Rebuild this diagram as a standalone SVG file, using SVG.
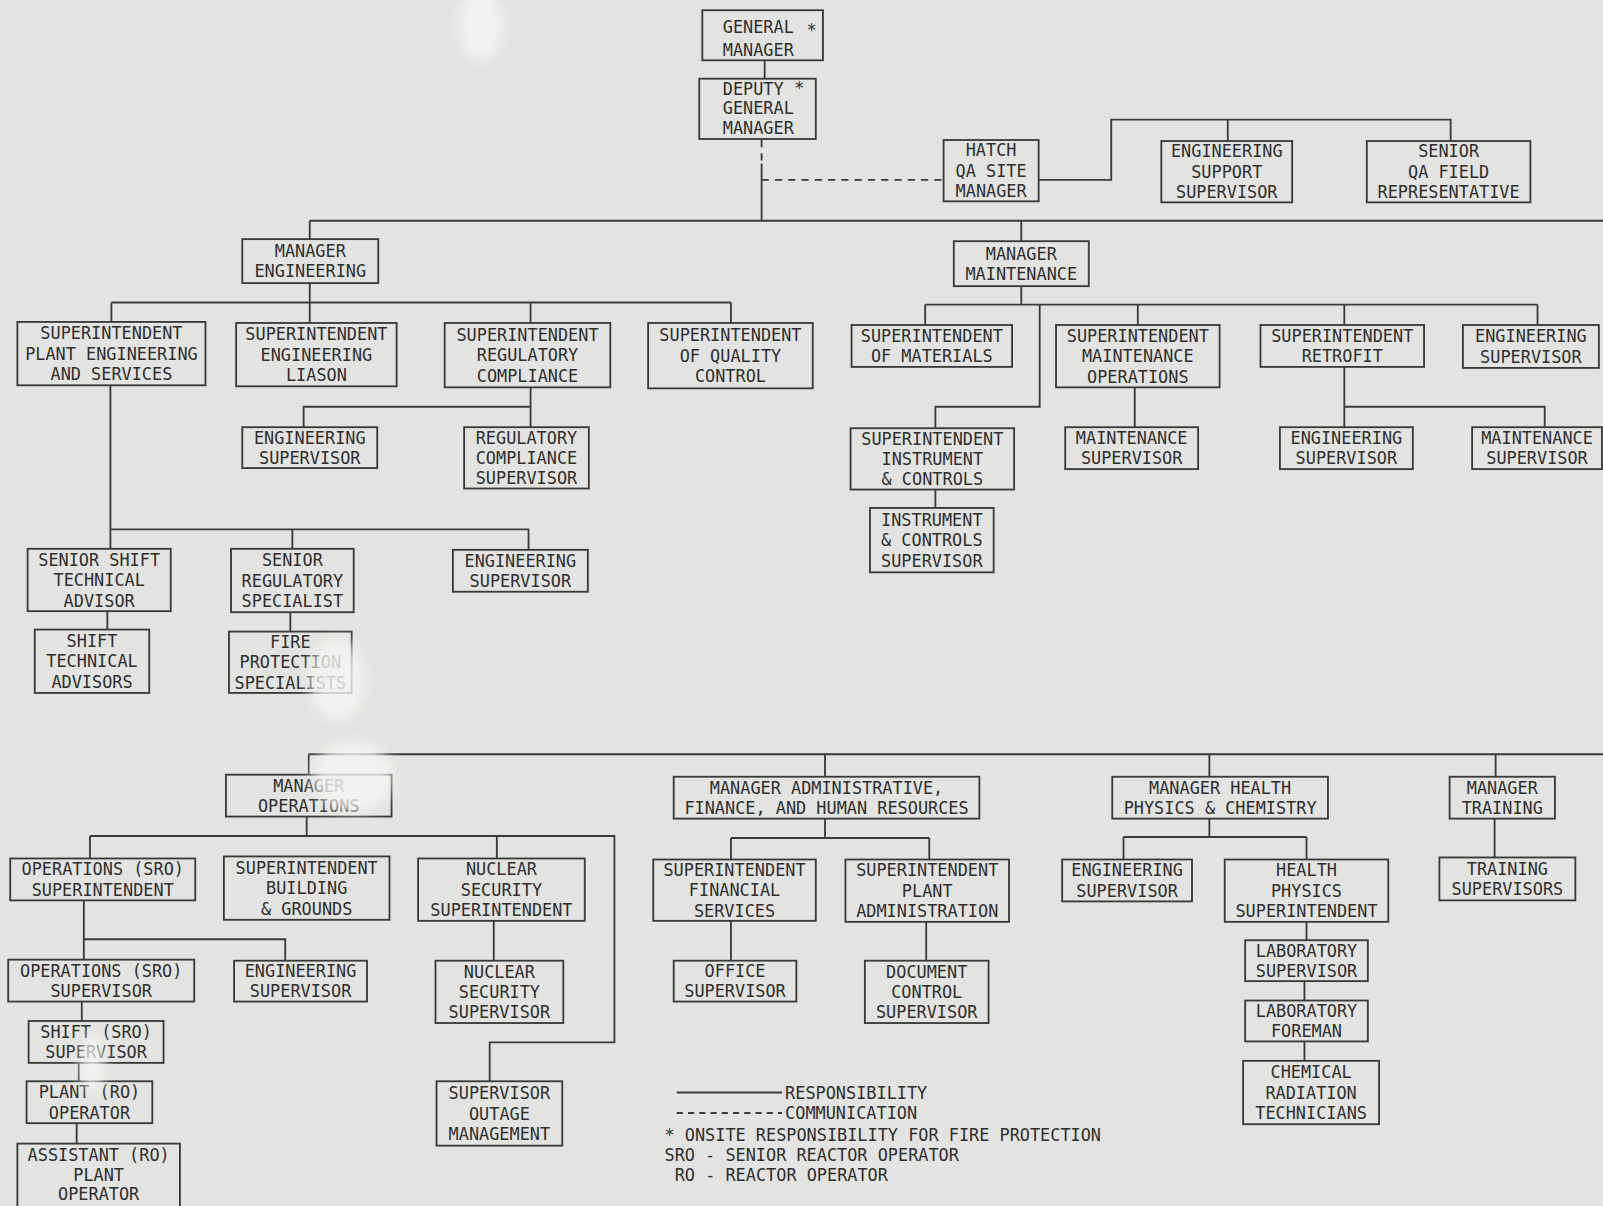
<svg xmlns="http://www.w3.org/2000/svg" width="1603" height="1206" viewBox="0 0 1603 1206">
<style>
.box{fill:none;stroke:#3a3a3a;stroke-width:1.8}
.t{font-family:"DejaVu Sans Mono","Liberation Mono",monospace;font-size:16.5px;fill:#2e2e2e;text-anchor:middle}
.l{text-anchor:start}
.c{fill:none;stroke:#3a3a3a;stroke-width:1.8}
.d{stroke-dasharray:7 6}
.smudge{fill:#f6f6f4;filter:url(#blur)}
</style>
<defs>
<filter id="blur" x="-50%" y="-50%" width="200%" height="200%"><feGaussianBlur stdDeviation="7"/></filter>
</defs>
<rect width="1603" height="1206" fill="#e3e3e1"/>
<g transform="scale(1.0223 1.022)">
<g id="connectors">
<path class="c" d="M748 59V77"/>
<path class="c d" d="M745 137V160"/>
<path class="c d" d="M745 176H923"/>
<path class="c" d="M745 160V216"/>
<path class="c" d="M303 216H1570"/>
<path class="c" d="M303 216V234M999 216V236"/>
<path class="c" d="M1016 176H1087V117H1419V138M1201 117V138"/>
<path class="c" d="M303 277V316M109 296H715M109 296V315M519 296V316M715 296V316"/>
<path class="c" d="M519 379V418M519 398H297V418"/>
<path class="c" d="M108 377V537M108 518H517V538M286 518V537"/>
<path class="c" d="M105 598V616M284 599V618"/>
<path class="c" d="M999 280V298M905 298H1504M905 298V318M1113 298V318M1315 298V318M1504 298V318"/>
<path class="c" d="M1017 298V398H915V419M915 479V497"/>
<path class="c" d="M1110 379V418"/>
<path class="c" d="M1315 359V418M1315 398H1511V418"/>
<path class="c" d="M302 738H1570M302 738V758"/>
<path class="c" d="M300 799V818M88 818H601V1020H479V1058M88 818V840M486 818V840"/>
<path class="c" d="M82 881V939M82 919H279V940M483 901V940"/>
<path class="c" d="M80 980V999M77 1040V1058M75 1099V1119"/>
<path class="c" d="M807 738V760M807 801V820M715 820H909M715 820V841M909 820V841M715 901V940M906 902V940"/>
<path class="c" d="M1183 738V760M1183 801V819M1099 819H1278M1099 819V841M1278 819V841M1278 902V920M1276 960V979M1276 1019V1038"/>
<path class="c" d="M1463 738V760M1462 801V839"/>
</g>
<g id="gm"><rect class="box" x="687" y="10" width="118" height="49"/><text class="t l" x="707" y="32">GENERAL</text><text class="t" x="794" y="35">*</text><text class="t l" x="707" y="55">MANAGER</text></g>
<g id="dgm"><rect class="box" x="684" y="77" width="114" height="59"/><text class="t l" x="707" y="93">DEPUTY</text><text class="t" x="782" y="92">*</text><text class="t l" x="707" y="112">GENERAL</text><text class="t l" x="707" y="131">MANAGER</text></g>
<g id="hatch"><rect class="box" x="923" y="137" width="93" height="60"/><text class="t" x="969.5" y="153">HATCH</text><text class="t" x="969.5" y="173">QA SITE</text><text class="t" x="969.5" y="193">MANAGER</text></g>
<g id="engsupport"><rect class="box" x="1136" y="138" width="128" height="60"/><text class="t" x="1200" y="154">ENGINEERING</text><text class="t" x="1200" y="174">SUPPORT</text><text class="t" x="1200" y="194">SUPERVISOR</text></g>
<g id="seniorqa"><rect class="box" x="1337" y="138" width="160" height="60"/><text class="t" x="1417" y="154">SENIOR</text><text class="t" x="1417" y="174">QA FIELD</text><text class="t" x="1417" y="194">REPRESENTATIVE</text></g>
<g id="mgreng"><rect class="box" x="237" y="234" width="133" height="43"/><text class="t" x="303.5" y="251.5">MANAGER</text><text class="t" x="303.5" y="271.5">ENGINEERING</text></g>
<g id="mgrmaint"><rect class="box" x="933" y="236" width="132" height="44"/><text class="t" x="999" y="254">MANAGER</text><text class="t" x="999" y="274">MAINTENANCE</text></g>
<g id="suptplant"><rect class="box" x="17" y="315" width="184" height="62"/><text class="t" x="109" y="332">SUPERINTENDENT</text><text class="t" x="109" y="352">PLANT ENGINEERING</text><text class="t" x="109" y="372">AND SERVICES</text></g>
<g id="suptliason"><rect class="box" x="231" y="316" width="157" height="62"/><text class="t" x="309.5" y="333">SUPERINTENDENT</text><text class="t" x="309.5" y="353">ENGINEERING</text><text class="t" x="309.5" y="373">LIASON</text></g>
<g id="suptreg"><rect class="box" x="435" y="316" width="162" height="63"/><text class="t" x="516" y="333.5">SUPERINTENDENT</text><text class="t" x="516" y="353.5">REGULATORY</text><text class="t" x="516" y="373.5">COMPLIANCE</text></g>
<g id="suptqc"><rect class="box" x="634" y="316" width="161" height="64"/><text class="t" x="714.5" y="334">SUPERINTENDENT</text><text class="t" x="714.5" y="354">OF QUALITY</text><text class="t" x="714.5" y="374">CONTROL</text></g>
<g id="suptmat"><rect class="box" x="833" y="318" width="157" height="41"/><text class="t" x="911.5" y="334.5">SUPERINTENDENT</text><text class="t" x="911.5" y="354.5">OF MATERIALS</text></g>
<g id="suptmaintops"><rect class="box" x="1033" y="318" width="160" height="61"/><text class="t" x="1113" y="334.5">SUPERINTENDENT</text><text class="t" x="1113" y="354.5">MAINTENANCE</text><text class="t" x="1113" y="374.5">OPERATIONS</text></g>
<g id="suptretro"><rect class="box" x="1233" y="318" width="160" height="41"/><text class="t" x="1313" y="334.5">SUPERINTENDENT</text><text class="t" x="1313" y="354.5">RETROFIT</text></g>
<g id="engsup_m"><rect class="box" x="1431" y="318" width="133" height="42"/><text class="t" x="1497.5" y="335">ENGINEERING</text><text class="t" x="1497.5" y="355">SUPERVISOR</text></g>
<g id="engsup_e1"><rect class="box" x="237" y="418" width="132" height="40"/><text class="t" x="303" y="434">ENGINEERING</text><text class="t" x="303" y="454">SUPERVISOR</text></g>
<g id="regsup"><rect class="box" x="454" y="418" width="122" height="60"/><text class="t" x="515" y="434">REGULATORY</text><text class="t" x="515" y="454">COMPLIANCE</text><text class="t" x="515" y="474">SUPERVISOR</text></g>
<g id="suptic"><rect class="box" x="832" y="419" width="160" height="60"/><text class="t" x="912" y="435">SUPERINTENDENT</text><text class="t" x="912" y="455">INSTRUMENT</text><text class="t" x="912" y="475">&amp; CONTROLS</text></g>
<g id="maintsup1"><rect class="box" x="1042" y="418" width="130" height="41"/><text class="t" x="1107" y="434.5">MAINTENANCE</text><text class="t" x="1107" y="454.5">SUPERVISOR</text></g>
<g id="engsup_r"><rect class="box" x="1252" y="418" width="130" height="41"/><text class="t" x="1317" y="434.5">ENGINEERING</text><text class="t" x="1317" y="454.5">SUPERVISOR</text></g>
<g id="maintsup2"><rect class="box" x="1440" y="418" width="127" height="41"/><text class="t" x="1503.5" y="434.5">MAINTENANCE</text><text class="t" x="1503.5" y="454.5">SUPERVISOR</text></g>
<g id="icsup"><rect class="box" x="851" y="497" width="121" height="63"/><text class="t" x="911.5" y="514.5">INSTRUMENT</text><text class="t" x="911.5" y="534.5">&amp; CONTROLS</text><text class="t" x="911.5" y="554.5">SUPERVISOR</text></g>
<g id="seniorshift"><rect class="box" x="27" y="537" width="140" height="61"/><text class="t" x="97" y="553.5">SENIOR SHIFT</text><text class="t" x="97" y="573.5">TECHNICAL</text><text class="t" x="97" y="593.5">ADVISOR</text></g>
<g id="seniorreg"><rect class="box" x="226" y="537" width="120" height="62"/><text class="t" x="286" y="554">SENIOR</text><text class="t" x="286" y="574">REGULATORY</text><text class="t" x="286" y="594">SPECIALIST</text></g>
<g id="engsup_e2"><rect class="box" x="443" y="538" width="132" height="41"/><text class="t" x="509" y="554.5">ENGINEERING</text><text class="t" x="509" y="574.5">SUPERVISOR</text></g>
<g id="shifttech"><rect class="box" x="34" y="616" width="112" height="62"/><text class="t" x="90" y="633">SHIFT</text><text class="t" x="90" y="653">TECHNICAL</text><text class="t" x="90" y="673">ADVISORS</text></g>
<g id="fireprot"><rect class="box" x="224" y="618" width="120" height="60"/><text class="t" x="284" y="634">FIRE</text><text class="t" x="284" y="654">PROTECTION</text><text class="t" x="284" y="674">SPECIALISTS</text></g>
<g id="mgrops"><rect class="box" x="221" y="758" width="162" height="41"/><text class="t" x="302" y="774.5">MANAGER</text><text class="t" x="302" y="794.5">OPERATIONS</text></g>
<g id="mgradmin"><rect class="box" x="659" y="760" width="299" height="41"/><text class="t" x="808.5" y="776.5">MANAGER ADMINISTRATIVE,</text><text class="t" x="808.5" y="796.5">FINANCE, AND HUMAN RESOURCES</text></g>
<g id="mgrhp"><rect class="box" x="1088" y="760" width="211" height="41"/><text class="t" x="1193.5" y="776.5">MANAGER HEALTH</text><text class="t" x="1193.5" y="796.5">PHYSICS &amp; CHEMISTRY</text></g>
<g id="mgrtrain"><rect class="box" x="1418" y="760" width="103" height="41"/><text class="t" x="1469.5" y="776.5">MANAGER</text><text class="t" x="1469.5" y="796.5">TRAINING</text></g>
<g id="opssupt"><rect class="box" x="10" y="840" width="181" height="41"/><text class="t" x="100.5" y="856.5">OPERATIONS (SRO)</text><text class="t" x="100.5" y="876.5">SUPERINTENDENT</text></g>
<g id="suptbldg"><rect class="box" x="219" y="838" width="162" height="62"/><text class="t" x="300" y="855">SUPERINTENDENT</text><text class="t" x="300" y="875">BUILDING</text><text class="t" x="300" y="895">&amp; GROUNDS</text></g>
<g id="nucsecsupt"><rect class="box" x="409" y="840" width="163" height="61"/><text class="t" x="490.5" y="856.5">NUCLEAR</text><text class="t" x="490.5" y="876.5">SECURITY</text><text class="t" x="490.5" y="896.5">SUPERINTENDENT</text></g>
<g id="suptfin"><rect class="box" x="639" y="841" width="159" height="60"/><text class="t" x="718.5" y="857">SUPERINTENDENT</text><text class="t" x="718.5" y="877">FINANCIAL</text><text class="t" x="718.5" y="897">SERVICES</text></g>
<g id="suptpadmin"><rect class="box" x="827" y="841" width="160" height="61"/><text class="t" x="907" y="857.5">SUPERINTENDENT</text><text class="t" x="907" y="877.5">PLANT</text><text class="t" x="907" y="897.5">ADMINISTRATION</text></g>
<g id="engsup_hp"><rect class="box" x="1039" y="841" width="127" height="41"/><text class="t" x="1102.5" y="857.5">ENGINEERING</text><text class="t" x="1102.5" y="877.5">SUPERVISOR</text></g>
<g id="hpsupt"><rect class="box" x="1198" y="841" width="160" height="61"/><text class="t" x="1278" y="857.5">HEALTH</text><text class="t" x="1278" y="877.5">PHYSICS</text><text class="t" x="1278" y="897.5">SUPERINTENDENT</text></g>
<g id="trainsup"><rect class="box" x="1408" y="839" width="133" height="42"/><text class="t" x="1474.5" y="856">TRAINING</text><text class="t" x="1474.5" y="876">SUPERVISORS</text></g>
<g id="opssup"><rect class="box" x="8" y="939" width="182" height="41"/><text class="t" x="99" y="955.5">OPERATIONS (SRO)</text><text class="t" x="99" y="975.5">SUPERVISOR</text></g>
<g id="engsup_o"><rect class="box" x="229" y="940" width="130" height="40"/><text class="t" x="294" y="956">ENGINEERING</text><text class="t" x="294" y="976">SUPERVISOR</text></g>
<g id="nucsecsup"><rect class="box" x="426" y="940" width="125" height="61"/><text class="t" x="488.5" y="956.5">NUCLEAR</text><text class="t" x="488.5" y="976.5">SECURITY</text><text class="t" x="488.5" y="996.5">SUPERVISOR</text></g>
<g id="officesup"><rect class="box" x="659" y="940" width="120" height="40"/><text class="t" x="719" y="956">OFFICE</text><text class="t" x="719" y="976">SUPERVISOR</text></g>
<g id="docsup"><rect class="box" x="846" y="940" width="121" height="61"/><text class="t" x="906.5" y="956.5">DOCUMENT</text><text class="t" x="906.5" y="976.5">CONTROL</text><text class="t" x="906.5" y="996.5">SUPERVISOR</text></g>
<g id="labsup"><rect class="box" x="1218" y="920" width="120" height="40"/><text class="t" x="1278" y="936">LABORATORY</text><text class="t" x="1278" y="956">SUPERVISOR</text></g>
<g id="shiftsup"><rect class="box" x="28" y="999" width="132" height="41"/><text class="t" x="94" y="1015.5">SHIFT (SRO)</text><text class="t" x="94" y="1035.5">SUPERVISOR</text></g>
<g id="plantop"><rect class="box" x="26" y="1058" width="123" height="41"/><text class="t" x="87.5" y="1074.5">PLANT (RO)</text><text class="t" x="87.5" y="1094.5">OPERATOR</text></g>
<g id="labforeman"><rect class="box" x="1218" y="979" width="120" height="40"/><text class="t" x="1278" y="995">LABORATORY</text><text class="t" x="1278" y="1015">FOREMAN</text></g>
<g id="outage"><rect class="box" x="427" y="1058" width="123" height="63"/><text class="t" x="488.5" y="1075.5">SUPERVISOR</text><text class="t" x="488.5" y="1095.5">OUTAGE</text><text class="t" x="488.5" y="1115.5">MANAGEMENT</text></g>
<g id="chemtech"><rect class="box" x="1216" y="1038" width="133" height="62"/><text class="t" x="1282.5" y="1055">CHEMICAL</text><text class="t" x="1282.5" y="1075">RADIATION</text><text class="t" x="1282.5" y="1095">TECHNICIANS</text></g>
<g id="asstop"><rect class="box" x="17" y="1119" width="159" height="64"/><text class="t" x="96.5" y="1136">ASSISTANT (RO)</text><text class="t" x="96.5" y="1156">PLANT</text><text class="t" x="96.5" y="1174">OPERATOR</text></g>
<g id="legend">
<path class="c" d="M662 1069H765"/>
<path class="c d" d="M662 1089H765" style="stroke-dasharray:6 5"/>
<text class="t l" x="768" y="1075">RESPONSIBILITY</text>
<text class="t l" x="768" y="1095">COMMUNICATION</text>
<text class="t l" x="650" y="1116">* ONSITE RESPONSIBILITY FOR FIRE PROTECTION</text>
<text class="t l" x="650" y="1136">SRO - SENIOR REACTOR OPERATOR</text>
<text class="t l" x="660" y="1156">RO - REACTOR OPERATOR</text>
</g>
<g id="smudges" opacity="0.8">
<ellipse class="smudge" cx="470" cy="25" rx="22" ry="35"/>
<ellipse class="smudge" cx="330" cy="665" rx="28" ry="40"/>
<ellipse class="smudge" cx="345" cy="760" rx="40" ry="35"/>
<ellipse class="smudge" cx="90" cy="1040" rx="12" ry="30"/>
</g>
</g>
</svg>
